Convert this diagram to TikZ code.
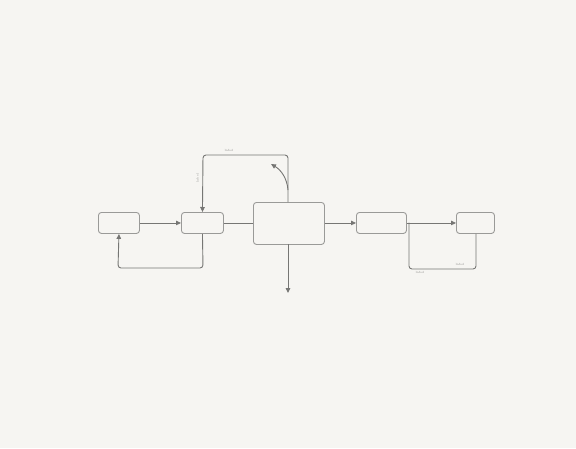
\documentclass[tikz,border=0pt]{standalone}
\usetikzlibrary{arrows.meta}
\definecolor{bg}{HTML}{F6F5F2}
\definecolor{boxline}{HTML}{9A9A98}
\definecolor{wire}{HTML}{767674}
\definecolor{lbl}{HTML}{8A8A88}
\begin{document}
\begin{tikzpicture}[x=1pt,y=-1pt,
  blk/.style={draw=boxline, line width=0.9pt, rounded corners=3pt, fill=bg, inner sep=0pt, anchor=north west},
  wireline/.style={draw=wire, line width=0.9pt, rounded corners=3pt},
  arr/.style={-{Triangle[length=5pt,width=4.5pt]}},
  tinylbl/.style={font=\fontsize{3}{3}\selectfont, text=lbl, inner sep=0pt}]
\fill[bg] (0,0) rectangle (576,448);
\useasboundingbox (0,0) rectangle (576,448);
% boxes
\node[blk, minimum width=41pt, minimum height=21pt] (A) at (98,212) {};
\node[blk, minimum width=42pt, minimum height=21pt] (B) at (181,212) {};
\node[blk, minimum width=71pt, minimum height=42pt] (C) at (253,202) {};
\node[blk, minimum width=50pt, minimum height=21pt] (D) at (356,212) {};
\node[blk, minimum width=38pt, minimum height=21pt] (E) at (456,212) {};
% coordinates
\coordinate (ctop) at (288,202);
\coordinate (cbot) at (288,244);
\coordinate (cout) at (288,293);
\coordinate (curvetip) at (271,164);
\coordinate (branch) at (409,222.5);
% straight connectors
\draw[wireline, arr] (A.east) -- (B.west);
\draw[wireline] (B.east) -- (B.east -| C.west);
\draw[wireline, arr] (C.east |- D.west) -- (D.west);
\draw[wireline, arr] (D.east) -- (E.west);
% top loop C -> B
\draw[wireline, arr] (ctop) -- (288,155) -- (203,155) -- (B.north);
% curved arrow
\draw[draw=wire, line width=0.9pt, arr] (288,190) .. controls (287,178) and (281,170) .. (curvetip);
% bottom loop B -> A
\draw[wireline, arr] (B.south) -- (203,268) -- (118,268) -- (A.south);
% output of C
\draw[wireline, arr] (cbot) -- (cout);
% right loop D-E
\draw[wireline] (branch) -- (409,269) -- (476,269) -- (E.south -| 476,0);
% tiny labels
\node[tinylbl] (l1) at (229,150) {label};
\node[tinylbl, rotate=90] (l2) at (197.5,178) {label};
\node[tinylbl] (l3) at (460,264) {label};
\node[tinylbl] (l4) at (420,272) {label};
\end{tikzpicture}
\end{document}
